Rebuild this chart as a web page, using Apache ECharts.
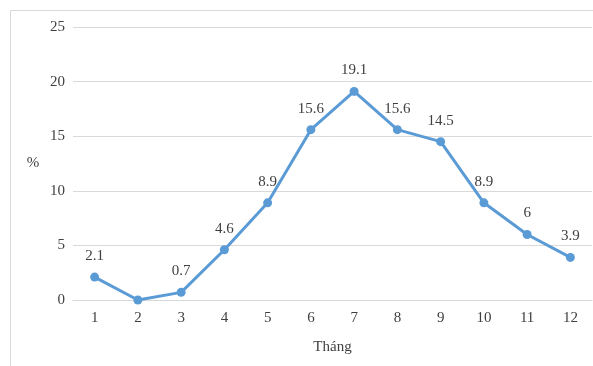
<!DOCTYPE html>
<html>
<head>
<meta charset="utf-8">
<script src="https://cdn.jsdelivr.net/npm/echarts@6/dist/echarts.min.js"></script>
<style>html,body{margin:0;padding:0;background:#fff;}#c{width:593px;height:366px;}</style>
</head>
<body>
<div id="c"></div>
<script>
const months = ['1','2','3','4','5','6','7','8','9','10','11','12'];
const values = [2.1, 0, 0.7, 4.6, 8.9, 15.6, 19.1, 15.6, 14.5, 8.9, 6, 3.9];
const yTicks = [0, 5, 10, 15, 20, 25];

const chart = echarts.init(document.getElementById('c'));
const font = '"Liberation Serif", "Times New Roman", serif';
chart.setOption({
  animation: false,
  backgroundColor: '#fff',
  graphic: [{
    type: 'rect', shape: {x: 10.5, y: 10.5, width: 600, height: 400},
    style: {fill: 'none', stroke: '#d9d9d9', lineWidth: 1}, silent: true, z: -1
  }],
  grid: {left: 73, right: 1, top: 27, bottom: 66, containLabel: false},
  xAxis: {
    type: 'category', data: months, boundaryGap: true,
    name: 'Tháng', nameLocation: 'middle', nameGap: 40,
    nameTextStyle: {fontFamily: font, fontSize: 15, color: '#404040'},
    axisLine: {show: true, lineStyle: {color: '#d9d9d9', width: 1}},
    axisTick: {show: false},
    axisLabel: {fontFamily: font, fontSize: 15, color: '#404040', margin: 11}
  },
  yAxis: {
    type: 'value', min: yTicks[0], max: yTicks[yTicks.length - 1], interval: 5,
    name: '%', nameLocation: 'middle', nameGap: 40, nameRotate: 0,
    nameTextStyle: {fontFamily: font, fontSize: 15, color: '#404040', align: 'center', verticalAlign: 'middle'},
    axisLine: {show: false}, axisTick: {show: false},
    axisLabel: {fontFamily: font, fontSize: 15, color: '#404040', margin: 8},
    splitLine: {lineStyle: {color: '#d9d9d9', width: 1}}
  },
  series: [{
    type: 'line', data: values,
    lineStyle: {color: '#5b9bd5', width: 3},
    itemStyle: {color: '#5b9bd5'},
    symbol: 'circle', symbolSize: 9,
    label: {
      show: true, position: 'top', distance: 9,
      fontFamily: font, fontSize: 15, color: '#404040',
      formatter: p => p.value === 0 ? '' : String(p.value)
    }
  }]
});
</script>
</body>
</html>
